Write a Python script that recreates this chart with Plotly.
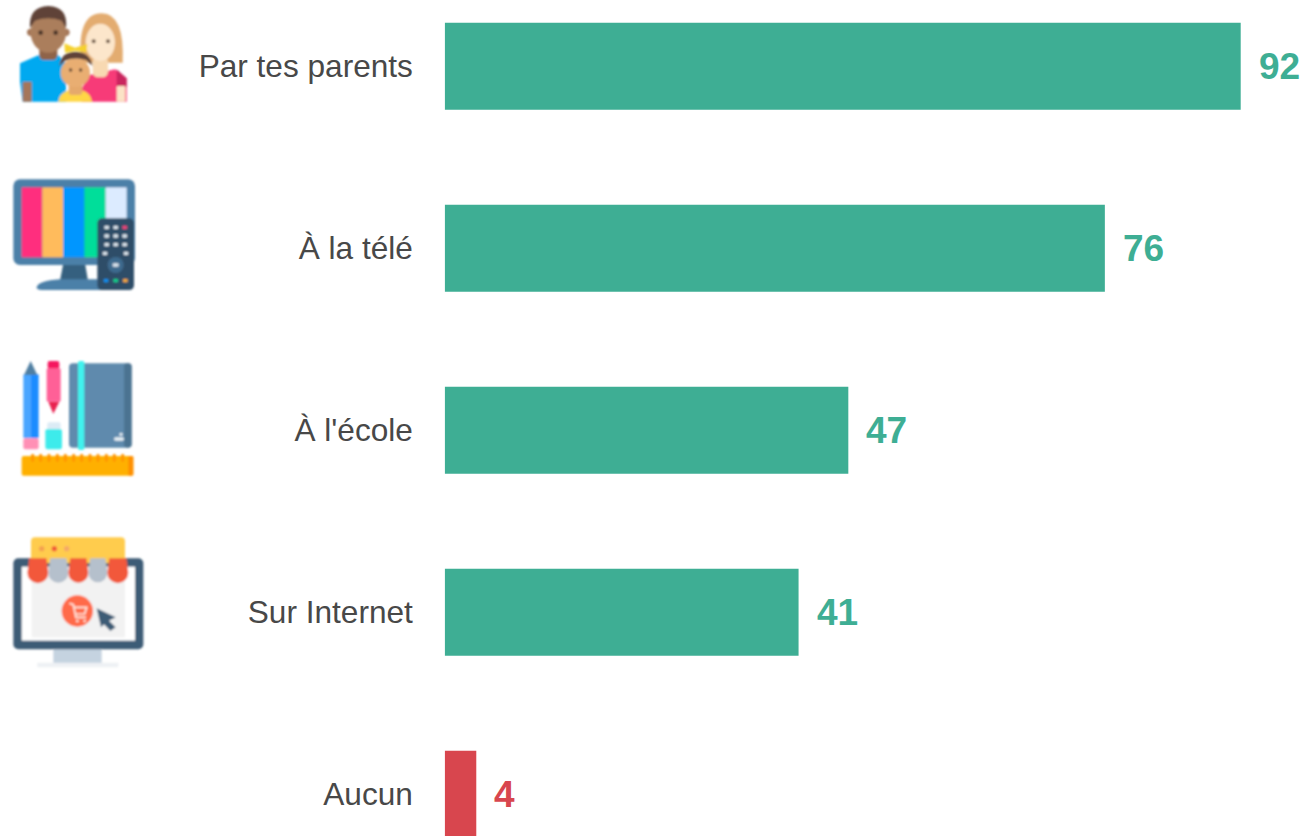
import base64
import plotly.graph_objects as go

categories = ["Par tes parents", "À la télé", "À l'école", "Sur Internet", "Aucun"]
bar_values = [92, 76.3, 46.65, 40.9, 3.65]
value_labels = ["92", "76", "47", "41", "4"]
bar_colors = ["#3EAE94", "#3EAE94", "#3EAE94", "#3EAE94", "#D8464E"]

W, H = 1306, 836
X0 = 444.7
PX_PER_UNIT = 796 / 92
FIRST_CENTER, STEP = 66.2, 182.0


def rr(x0, y0, x1, y1, r, fill):
    return f'<rect x="{x0}" y="{y0}" width="{x1-x0}" height="{y1-y0}" rx="{r}" fill="{fill}"/>'


def c(x, y, r, fill):
    return f'<circle cx="{x}" cy="{y}" r="{r}" fill="{fill}"/>'


def e(x, y, rx, ry, fill):
    return f'<ellipse cx="{x}" cy="{y}" rx="{rx}" ry="{ry}" fill="{fill}"/>'


def p(d, fill):
    return f'<path d="{d}" fill="{fill}"/>'


family = "".join([
    # woman
    p("M243 188 Q230 40 305 40 Q374 40 368 188 Z", "#E3AC70"),
    p("M245 265 L268 225 L345 208 L380 235 L380 305 L245 305 Z", "#F73B78"),
    p("M350 208 L380 235 L380 260 L350 258 Z", "#C9275F"),
    rr(350, 258, 376, 305, 4, "#FBE3C6"),
    rr(278, 170, 324, 232, 16, "#F8D9B2"),
    e(301, 127, 44, 56, "#FCE6CB"),
    c(281, 124, 6, "#6b5443"), c(324, 124, 6, "#6b5443"),
    # man
    p("M60 190 L115 166 L175 166 L198 190 L198 305 L68 305 L60 245 Z", "#05A9F0"),
    rr(68, 245, 95, 305, 3, "#A5765A"),
    rr(118, 130, 172, 180, 14, "#8F6448"),
    c(92, 97, 11, "#A5785A"), c(198, 97, 11, "#A5785A"),
    e(145, 98, 53, 60, "#AB7E5C"),
    p("M90 85 Q85 20 145 18 Q205 20 198 85 L185 62 Q145 48 105 62 Z", "#5F4338"),
    c(122, 98, 7, "#4A3428"), c(167, 98, 7, "#4A3428"),
    # child
    p("M175 305 Q178 280 202 272 L250 272 Q272 280 276 305 Z", "#FFD744"),
    rr(206, 250, 247, 285, 10, "#E5A96C"),
    e(226, 218, 44, 43, "#E9AE72"),
    p("M178 198 Q183 155 226 155 Q270 155 278 198 L258 180 Q225 170 195 182 Z", "#5F4338"),
    p("M193 130 L225 143 L262 132 L260 157 L225 152 L195 158 Z", "#F5D12F"),
    c(212, 210, 5, "#5a4030"), c(242, 210, 5, "#5a4030"),
])

stripes = [(65, 127, "#FF2E7E"), (127, 190, "#FFBB5C"), (190, 253, "#0096FF"),
           (253, 317, "#00DE9A"), (317, 380, "#DCEBFF")]
remote_rows = [(320, 172, "#DDE6EE"), (347, 172, "#DDE6EE"), (374, 172, "#F0427A"),
               (320, 198, "#DDE6EE"), (347, 198, "#DDE6EE"), (374, 198, "#DDE6EE"),
               (320, 224, "#DDE6EE"), (347, 224, "#DDE6EE"), (374, 224, "#DDE6EE"),
               (315, 250, "#DDE6EE"), (378, 250, "#DDE6EE"),
               (318, 332, "#0F8FEF"), (347, 332, "#11D08C"), (376, 332, "#F7A93B")]
tv = "".join([
    p("M190 280 L255 280 L264 332 L180 332 Z", "#35607F"),
    p("M110 352 Q115 332 180 328 L310 328 L310 360 L125 360 Q110 360 110 352 Z", "#4C80A8"),
    rr(40, 28, 405, 285, 20, "#4C80A8"),
    *[rr(a, 52, b, 262, 0, col) for a, b, col in stripes],
    rr(292, 145, 402, 360, 14, "#2F4D68"),
    *[rr(x - 7, y - 5, x + 7, y + 5, 3, col) for x, y, col in remote_rows],
    c(347, 285, 24, "#3E6A8E"),
    rr(338, 280, 356, 290, 3, "#DDE6EE"),
])

ruler_ticks = [98, 122, 147, 172, 196, 221, 245, 270, 294, 319, 343, 368]
school = "".join([
    rr(70, 58, 93, 250, 3, "#4AA5FF"), rr(93, 58, 116, 250, 3, "#1A8CFF"),
    p("M92 18 L72 60 L112 60 Z", "#4F7FA3"),
    rr(70, 250, 116, 283, 6, "#FF8FB5"),
    rr(143, 18, 178, 42, 6, "#F5155F"),
    rr(140, 40, 182, 140, 4, "#FF6097"),
    p("M145 140 L178 140 L160 176 Z", "#E8204F"),
    rr(142, 202, 182, 228, 5, "#DCEBF5"),
    rr(136, 222, 186, 283, 7, "#3DEBEB"),
    rr(207, 25, 395, 278, 12, "#5F8AAD"),
    rr(372, 25, 395, 278, 10, "#4C7391"),
    rr(234, 18, 253, 285, 5, "#3FF2EE"),
    c(363, 238, 5, "#E8F0F5"),
    rr(342, 247, 372, 257, 5, "#E8F0F5"),
    rr(65, 303, 400, 362, 6, "#FFB000"),
    rr(385, 303, 400, 362, 4, "#FF8F00"),
    *[rr(x - 4.5, 297, x + 4.5, 320, 3, "#FF9500") for x in ruler_ticks],
])

awning = [(82, 145, "#F2583A"), (145, 205, "#B5C0CC"), (205, 265, "#F2583A"),
          (265, 322, "#B5C0CC"), (322, 385, "#F2583A")]


def scallop(a, b, fill):
    r = (b - a) / 2
    return p(f"M{a+6} 85 L{b-6} 85 L{b} 128 A{r} {r} 0 0 1 {a} 128 Z", fill)


shop = "".join([
    rr(160, 355, 305, 402, 0, "#C5D3E0"),
    rr(112, 398, 355, 412, 2, "#EEF1F4"),
    rr(40, 85, 430, 358, 15, "#3E5C76"),
    rr(65, 110, 405, 332, 0, "#FFFFFF"),
    rr(95, 110, 375, 322, 0, "#F2F2F2"),
    rr(93, 22, 375, 100, 12, "#FFCC4D"),
    c(125, 56, 8, "#F4A050"), c(163, 56, 8, "#F0583A"), c(200, 56, 8, "#F4A868"),
    *[scallop(a, b, col) for a, b, col in awning],
    c(232, 243, 47, "#FF6B4A"),
    '<path d="M208 220 L220 224 L228 262 L258 262 M222 232 L260 232 L254 252 L226 252" '
    'fill="none" stroke="#FFE9DF" stroke-width="5"/>',
    c(232, 273, 4, "#FFE9DF"), c(254, 273, 4, "#FFE9DF"),
    p("M290 235 L347 262 L327 272 L347 292 L331 303 L312 283 L303 292 Z", "#3E5C76"),
])

svg = (
    '<svg xmlns="http://www.w3.org/2000/svg" width="150" height="680" viewBox="0 0 150 680">'
    '<defs><filter id="b" x="-5%" y="-5%" width="110%" height="110%">'
    '<feGaussianBlur stdDeviation="1.0"/></filter></defs>'
    '<g filter="url(#b)">'
    f'<g transform="translate(0,0) scale(.33333)">{family}</g>'
    f'<g transform="translate(0,170) scale(.33333)">{tv}</g>'
    f'<g transform="translate(0,355) scale(.33333)">{school}</g>'
    f'<g transform="translate(0,530) scale(.33333)">{shop}</g>'
    '</g></svg>'
)
svg_uri = "data:image/svg+xml;base64," + base64.b64encode(svg.encode()).decode()

fig = go.Figure(
    go.Bar(
        x=bar_values,
        y=list(range(len(categories))),
        orientation="h",
        width=87 / STEP,
        marker=dict(color=bar_colors, line=dict(width=0)),
        hoverinfo="skip",
    )
)

for i, (v, lab, col) in enumerate(zip(bar_values, value_labels, bar_colors)):
    fig.add_annotation(
        x=v, y=i, xref="x", yref="y", text=f"<b>{lab}</b>", showarrow=False,
        xanchor="left", yanchor="middle", xshift=16,
        font=dict(family="Liberation Sans", size=37, color=col),
    )

fig.add_layout_image(
    source=svg_uri, xref="paper", yref="paper", x=0, y=1,
    sizex=150 / W, sizey=680 / H, xanchor="left", yanchor="top",
    sizing="stretch", layer="above",
)

fig.update_layout(
    width=W, height=H,
    margin=dict(l=0, r=0, t=0, b=0, pad=0),
    paper_bgcolor="white", plot_bgcolor="white",
    showlegend=False,
    xaxis=dict(domain=[X0 / W, 1], range=[0, (W - X0) / PX_PER_UNIT], visible=False, fixedrange=True),
    yaxis=dict(
        range=[(H - FIRST_CENTER) / STEP, -FIRST_CENTER / STEP],
        tickmode="array", tickvals=list(range(len(categories))), ticktext=categories,
        ticks="outside", ticklen=24.5, tickcolor="rgba(0,0,0,0)", tickwidth=0,
        showgrid=False, zeroline=False, showline=False, fixedrange=True,
        tickfont=dict(family="Liberation Sans", size=31.6, color="#484848"),
    ),
)

fig.write_html(
    "out.html",
    config={"displayModeBar": False},
    post_script="document.body.style.margin='0';document.body.style.overflow='hidden';",
)
